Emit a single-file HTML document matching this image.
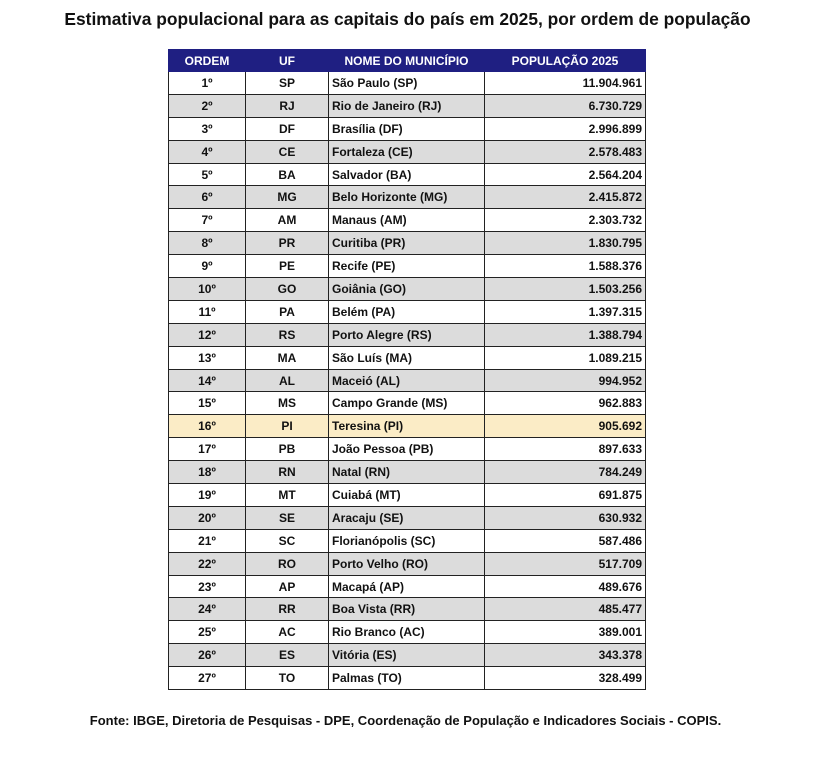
<!DOCTYPE html>
<html><head><meta charset="utf-8"><style>
body{margin:0;width:840px;height:761px;background:#fff;font-family:"Liberation Sans",Arial,sans-serif;position:relative;overflow:hidden}
.t{position:absolute;top:9px;left:0;width:815px;text-align:center;font-weight:bold;font-size:17.4px;color:#111}
.f{position:absolute;top:713px;left:0;width:811px;text-align:center;font-weight:bold;font-size:13px;color:#111}
table{position:absolute;left:168px;top:49px;border-collapse:collapse;font-size:12px;font-weight:bold;color:#111;table-layout:fixed}
td,th{border:1px solid #222;padding:0 3px;height:22.9px;box-sizing:border-box;white-space:nowrap;overflow:hidden}
th{background:#1f1f82;color:#fff;height:22px;font-size:12px;border-color:#1f1f82}
td.c{text-align:center}td.r{text-align:right}
tbody tr:nth-child(even) td{background:#dcdcdc}
tbody tr.h td{background:#fbecc6}
</style></head><body>
<div class="t">Estimativa populacional para as capitais do país em 2025, por ordem de população</div>
<table>
<colgroup><col style="width:77px"><col style="width:83px"><col style="width:156px"><col style="width:161px"></colgroup>
<thead><tr><th>ORDEM</th><th>UF</th><th>NOME DO MUNICÍPIO</th><th>POPULAÇÃO 2025</th></tr></thead>
<tbody>
<tr><td class="c">1º</td><td class="c">SP</td><td>São Paulo (SP)</td><td class="r">11.904.961</td></tr>
<tr><td class="c">2º</td><td class="c">RJ</td><td>Rio de Janeiro (RJ)</td><td class="r">6.730.729</td></tr>
<tr><td class="c">3º</td><td class="c">DF</td><td>Brasília (DF)</td><td class="r">2.996.899</td></tr>
<tr><td class="c">4º</td><td class="c">CE</td><td>Fortaleza (CE)</td><td class="r">2.578.483</td></tr>
<tr><td class="c">5º</td><td class="c">BA</td><td>Salvador (BA)</td><td class="r">2.564.204</td></tr>
<tr><td class="c">6º</td><td class="c">MG</td><td>Belo Horizonte (MG)</td><td class="r">2.415.872</td></tr>
<tr><td class="c">7º</td><td class="c">AM</td><td>Manaus (AM)</td><td class="r">2.303.732</td></tr>
<tr><td class="c">8º</td><td class="c">PR</td><td>Curitiba (PR)</td><td class="r">1.830.795</td></tr>
<tr><td class="c">9º</td><td class="c">PE</td><td>Recife (PE)</td><td class="r">1.588.376</td></tr>
<tr><td class="c">10º</td><td class="c">GO</td><td>Goiânia (GO)</td><td class="r">1.503.256</td></tr>
<tr><td class="c">11º</td><td class="c">PA</td><td>Belém (PA)</td><td class="r">1.397.315</td></tr>
<tr><td class="c">12º</td><td class="c">RS</td><td>Porto Alegre (RS)</td><td class="r">1.388.794</td></tr>
<tr><td class="c">13º</td><td class="c">MA</td><td>São Luís (MA)</td><td class="r">1.089.215</td></tr>
<tr><td class="c">14º</td><td class="c">AL</td><td>Maceió (AL)</td><td class="r">994.952</td></tr>
<tr><td class="c">15º</td><td class="c">MS</td><td>Campo Grande (MS)</td><td class="r">962.883</td></tr>
<tr class="h"><td class="c">16º</td><td class="c">PI</td><td>Teresina (PI)</td><td class="r">905.692</td></tr>
<tr><td class="c">17º</td><td class="c">PB</td><td>João Pessoa (PB)</td><td class="r">897.633</td></tr>
<tr><td class="c">18º</td><td class="c">RN</td><td>Natal (RN)</td><td class="r">784.249</td></tr>
<tr><td class="c">19º</td><td class="c">MT</td><td>Cuiabá (MT)</td><td class="r">691.875</td></tr>
<tr><td class="c">20º</td><td class="c">SE</td><td>Aracaju (SE)</td><td class="r">630.932</td></tr>
<tr><td class="c">21º</td><td class="c">SC</td><td>Florianópolis (SC)</td><td class="r">587.486</td></tr>
<tr><td class="c">22º</td><td class="c">RO</td><td>Porto Velho (RO)</td><td class="r">517.709</td></tr>
<tr><td class="c">23º</td><td class="c">AP</td><td>Macapá (AP)</td><td class="r">489.676</td></tr>
<tr><td class="c">24º</td><td class="c">RR</td><td>Boa Vista (RR)</td><td class="r">485.477</td></tr>
<tr><td class="c">25º</td><td class="c">AC</td><td>Rio Branco (AC)</td><td class="r">389.001</td></tr>
<tr><td class="c">26º</td><td class="c">ES</td><td>Vitória (ES)</td><td class="r">343.378</td></tr>
<tr><td class="c">27º</td><td class="c">TO</td><td>Palmas (TO)</td><td class="r">328.499</td></tr>
</tbody></table>
<div class="f">Fonte: IBGE, Diretoria de Pesquisas - DPE, Coordenação de População e Indicadores Sociais - COPIS.</div>
</body></html>
